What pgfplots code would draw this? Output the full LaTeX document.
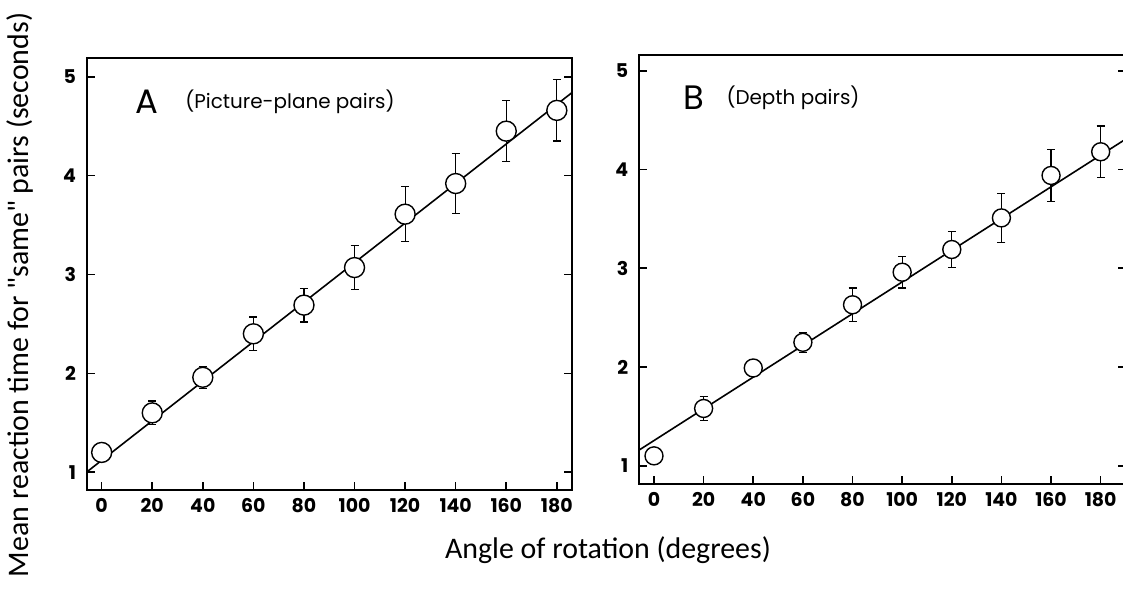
\documentclass[border=0pt]{standalone}
\usepackage{pgfplots}
\usepackage{pgfplotstable}
\pgfplotsset{compat=1.18}
\usepackage{fontspec}
\setmainfont{Carlito}
\newfontfamily\labelfont{Carlito}
\newfontfamily\tickfont{Poppins}
\pgfplotstableread{
x y e
0 1.20 0.05
20 1.60 0.12
40 1.96 0.11
60 2.40 0.17
80 2.69 0.17
100 3.07 0.22
120 3.61 0.28
140 3.92 0.30
160 4.45 0.31
180 4.66 0.31
}\dataA
\pgfplotstableread{
x y e
0 1.10 0.0
20 1.58 0.12
40 1.99 0.03
60 2.25 0.10
80 2.63 0.17
100 2.96 0.16
120 3.19 0.18
140 3.51 0.25
160 3.94 0.26
180 4.18 0.26
}\dataB
\begin{document}
\begin{tikzpicture}
\useasboundingbox (0,0) rectangle (561.5bp,295bp);
\pgfplotsset{
  every axis/.append style={
    scale only axis,
    anchor=south west,
    axis line style={line width=1bp},
    tick align=inside,
    xtick pos=bottom,
    ytick pos=both,
    major tick length=4bp,
    every tick/.style={black,line width=0.8bp},
    xtick={0,20,...,180},
    ytick={1,2,3,4,5},
    /pgf/number format/assume math mode=true,
    ticklabel style={font=\tickfont\bfseries\fontsize{9.5}{11}\selectfont},
    yticklabel style={xshift=-2bp},
    xticklabel style={yshift=-0.5bp},
    clip=false,
  },
  ebar/.style={draw=none, mark=none, forget plot,
    error bars/.cd, y dir=both, y explicit,
    error bar style={line width=0.6bp, black},
    error mark options={rotate=90, mark size=2bp, line width=0.6bp, black}},
}
% Panel A
\begin{axis}[at={(43.5bp,50bp)}, width=242.5bp, height=216bp,
  xmin=-5.8, xmax=186, ymin=0.82, ymax=5.19]
\addplot[ebar] table[x=x, y=y, y error=e] {\dataA};
\addplot[black, line width=0.8bp] coordinates {(-5.8,1.004) (186,4.84)};
\addplot[only marks, mark=*, mark size=5bp, mark options={fill=white, draw=black, line width=0.7bp}]
  table[x=x, y=y] {\dataA};
\end{axis}
% Panel B
\begin{axis}[at={(319.65bp,53bp)}, width=243.35bp, height=214.5bp,
  xmin=-5.92, xmax=190.2, ymin=0.815, ymax=5.16]
\addplot[ebar] table[x=x, y=y, y error=e] {\dataB};
\addplot[black, line width=0.8bp] coordinates {(-5.92,1.16) (190.2,4.31)};
\addplot[only marks, mark=*, mark size=4.5bp, mark options={fill=white, draw=black, line width=0.7bp}]
  table[x=x, y=y] {\dataB};
\end{axis}
\node[font=\tickfont\fontsize{17}{19}\selectfont] at (73.5bp,244bp) {A};
\node[font=\tickfont\fontsize{10}{12}\selectfont] at (145bp,244bp) {(Picture-plane pairs)};
\node[font=\tickfont\fontsize{17}{19}\selectfont] at (347bp,246bp) {B};
\node[font=\tickfont\fontsize{10}{12}\selectfont] at (396.5bp,246bp) {(Depth pairs)};
\node[font=\labelfont\fontsize{15}{17}\selectfont] at (304bp,20bp) {Angle of rotation (degrees)};
\node[font=\labelfont\fontsize{15}{17}\selectfont, rotate=90] at (10bp,147.5bp) {Mean reaction time for "same" pairs (seconds)};
\end{tikzpicture}
\end{document}
